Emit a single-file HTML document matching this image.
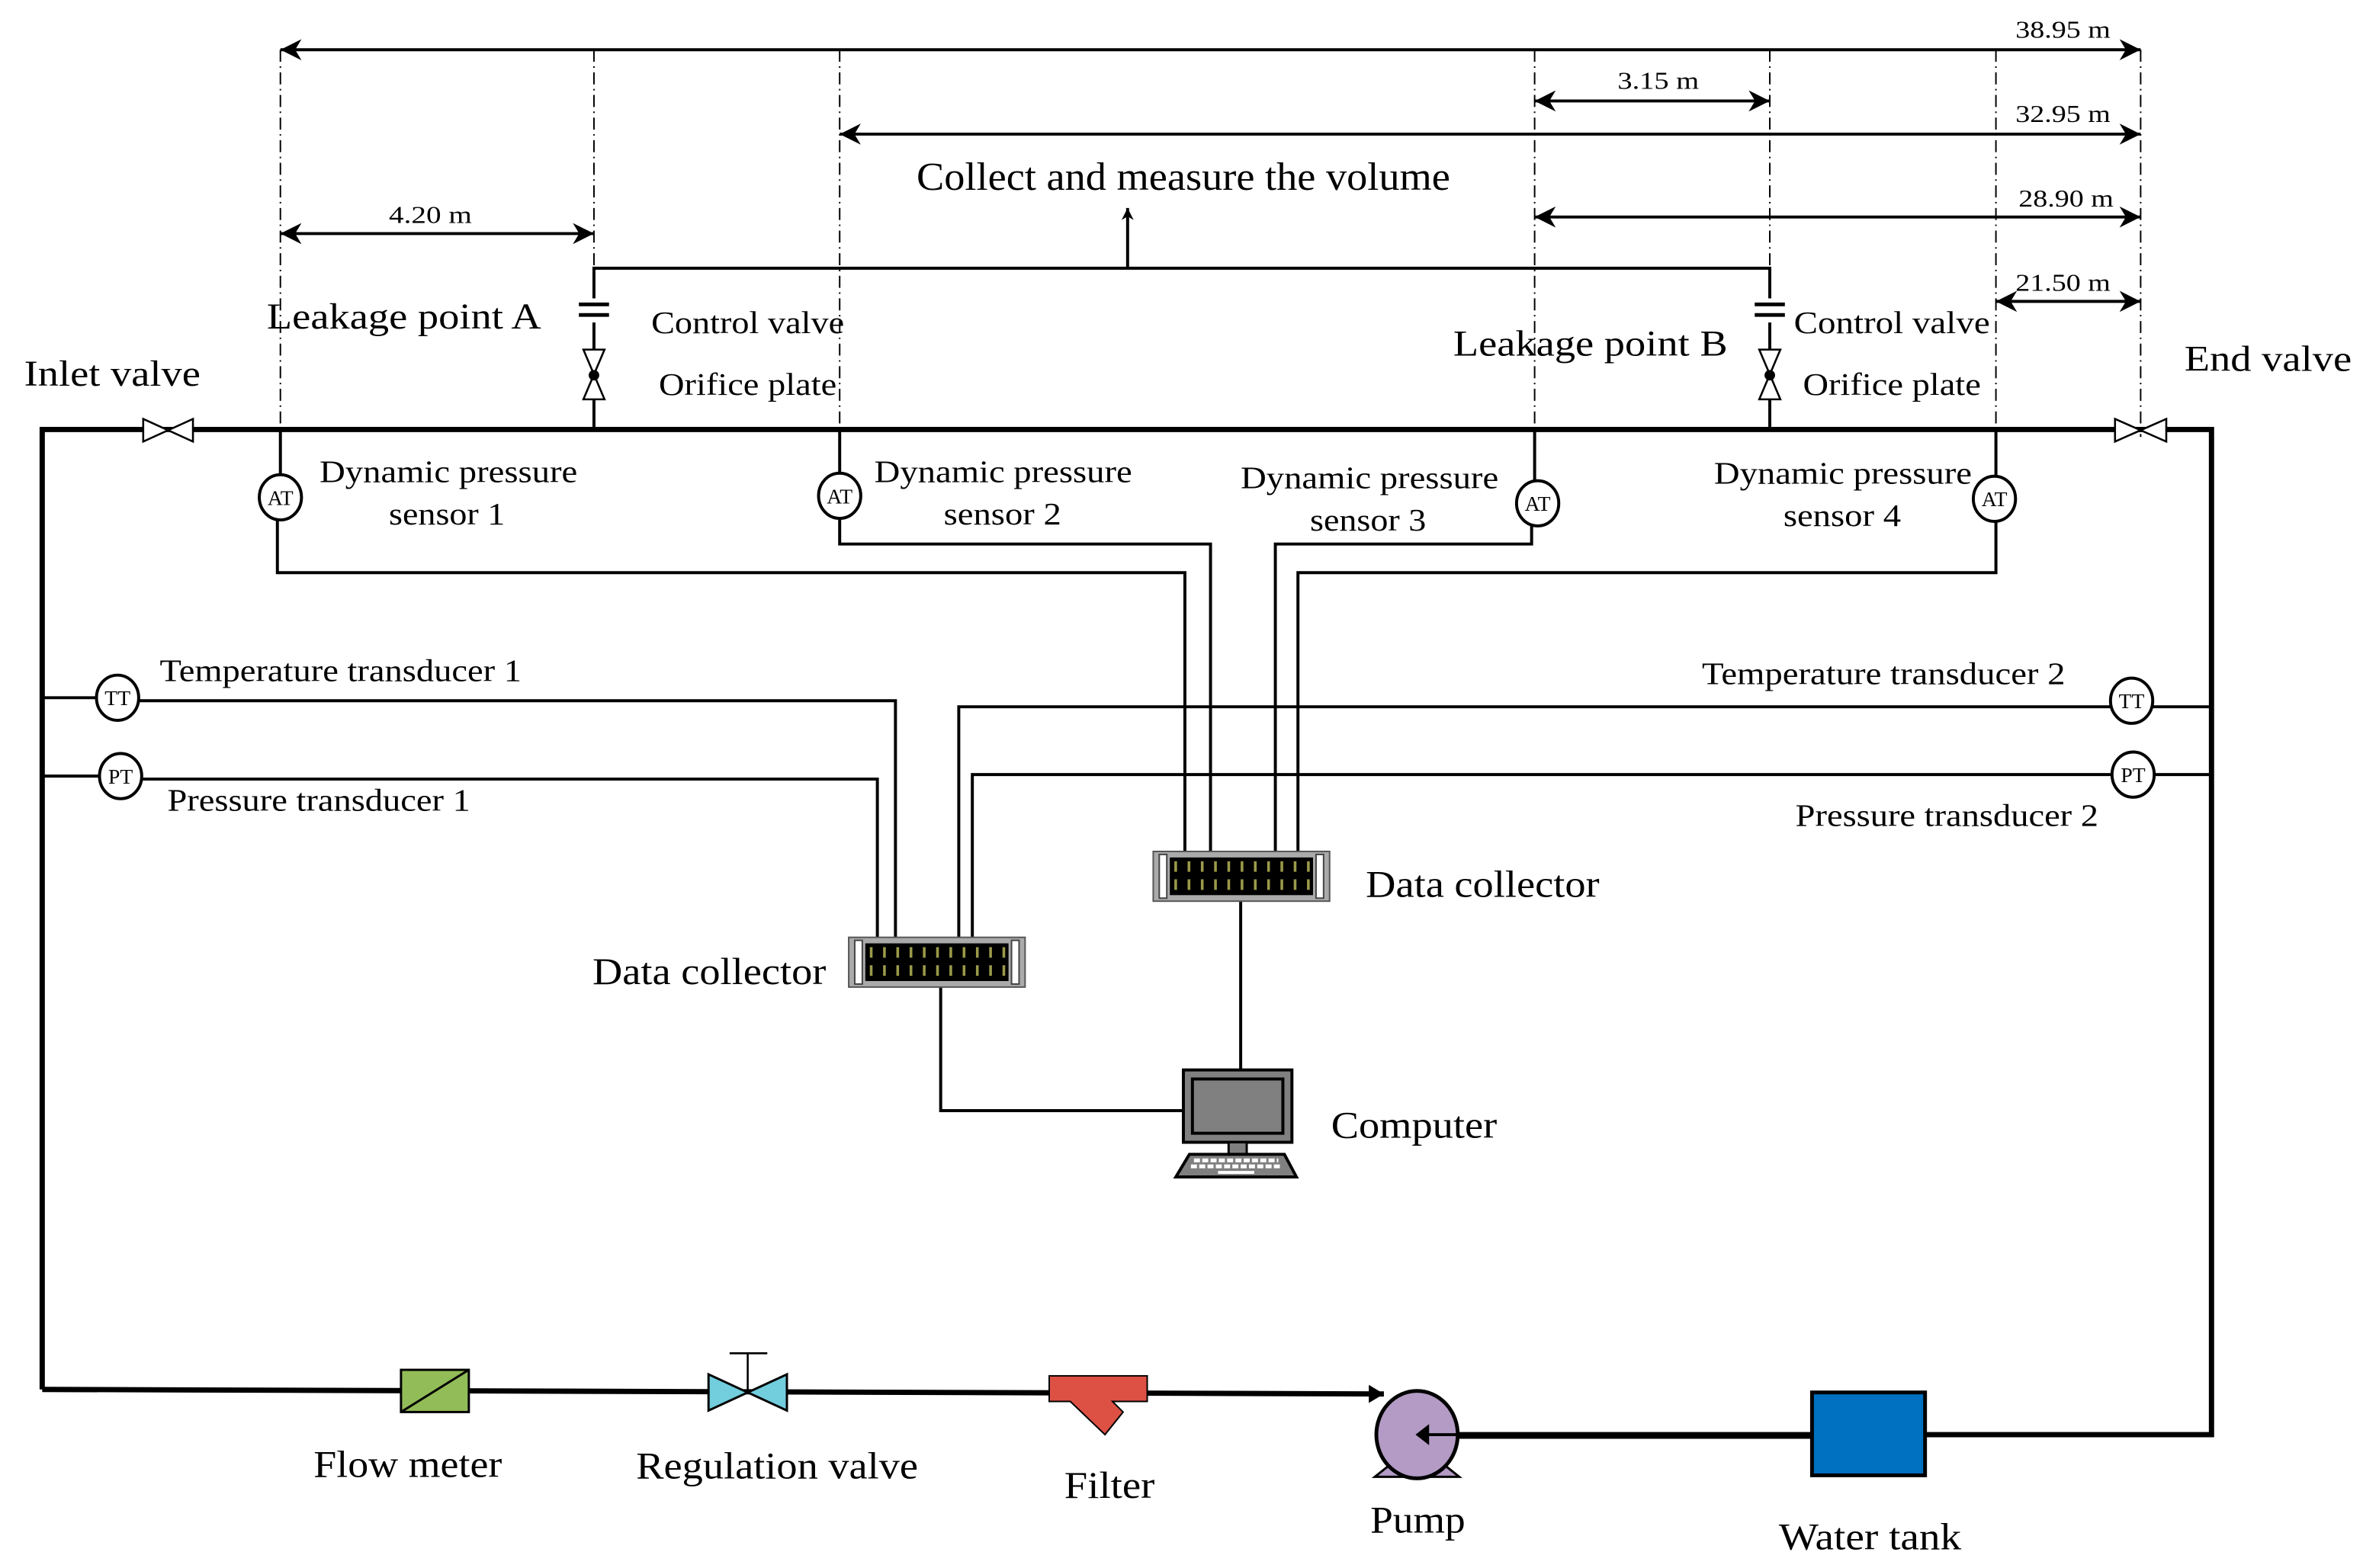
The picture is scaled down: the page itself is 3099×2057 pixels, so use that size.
<!DOCTYPE html>
<html><head><meta charset="utf-8"><style>
html,body{margin:0;padding:0;background:#fff;}
svg{display:block;}
text{font-family:"Liberation Serif",serif;fill:#000;}
</style></head><body>
<svg width="3099" height="2057" viewBox="0 0 1567.5 1040.5" preserveAspectRatio="none" xmlns="http://www.w3.org/2000/svg">
<defs>
<marker id="ah" viewBox="0 0 10 10" refX="10" refY="5" markerWidth="8" markerHeight="8" orient="auto-start-reverse" markerUnits="userSpaceOnUse"><path d="M0,0 L10,5 L0,10 L3,5 Z" fill="#000"/></marker>
<marker id="ah2" viewBox="0 0 10 10" refX="10" refY="5" markerWidth="14" markerHeight="14" orient="auto-start-reverse" markerUnits="userSpaceOnUse"><path d="M0,0 L10,5 L0,10 L3,5 Z" fill="#000"/></marker>
<g id="dc">
<rect x="0" y="0" width="117" height="33" fill="#aaa" stroke="#555" stroke-width="1"/>
<rect x="4" y="2" width="5" height="29" fill="#fff" stroke="#444" stroke-width="1"/>
<rect x="108" y="2" width="5" height="29" fill="#fff" stroke="#444" stroke-width="1"/>
<rect x="11" y="4" width="95" height="25" fill="#000"/>
<g stroke="#9a9a4a" stroke-width="1.8" stroke-dasharray="1.8,7">
<line x1="14" y1="10" x2="106" y2="10" stroke-width="7"/>
<line x1="14" y1="22" x2="106" y2="22" stroke-width="7"/>
</g>
</g>
</defs>
<rect width="1567.5" height="1040.5" fill="#fff"/>

<g stroke="#000" stroke-width="1" stroke-dasharray="8,3,1,3" fill="none">
<line x1="186" y1="33" x2="186" y2="290"/>
<line x1="394" y1="33" x2="394" y2="178"/>
<line x1="557" y1="33" x2="557" y2="290"/>
<line x1="1018" y1="33" x2="1018" y2="290"/>
<line x1="1174" y1="33" x2="1174" y2="178"/>
<line x1="1324" y1="33" x2="1324" y2="290"/>
<line x1="1420" y1="33" x2="1420" y2="290"/>
</g>

<g stroke="#000" stroke-width="2" fill="none">
<line x1="186" y1="33" x2="1420" y2="33" marker-start="url(#ah2)" marker-end="url(#ah2)"/>
<line x1="1018" y1="67" x2="1174" y2="67" marker-start="url(#ah2)" marker-end="url(#ah2)"/>
<line x1="557" y1="89" x2="1420" y2="89" marker-start="url(#ah2)" marker-end="url(#ah2)"/>
<line x1="1018" y1="144" x2="1420" y2="144" marker-start="url(#ah2)" marker-end="url(#ah2)"/>
<line x1="1324" y1="200" x2="1420" y2="200" marker-start="url(#ah2)" marker-end="url(#ah2)"/>
<line x1="186" y1="155" x2="394" y2="155" marker-start="url(#ah2)" marker-end="url(#ah2)"/>
</g>
<g font-size="16">
<text x="1337" y="25" textLength="63" lengthAdjust="spacingAndGlyphs">38.95 m</text>
<text x="1073" y="59" textLength="54" lengthAdjust="spacingAndGlyphs">3.15 m</text>
<text x="1337" y="81" textLength="63" lengthAdjust="spacingAndGlyphs">32.95 m</text>
<text x="1339" y="137" textLength="63" lengthAdjust="spacingAndGlyphs">28.90 m</text>
<text x="1337" y="193" textLength="63" lengthAdjust="spacingAndGlyphs">21.50 m</text>
<text x="258" y="148" textLength="55" lengthAdjust="spacingAndGlyphs">4.20 m</text>
</g>

<g stroke="#000" stroke-width="2" fill="none">
<polyline points="394,285 394,178 1174,178 1174,285"/>
<line x1="748" y1="178" x2="748" y2="138" marker-end="url(#ah)"/>
</g>
<text x="608" y="126" font-size="26" textLength="354" lengthAdjust="spacingAndGlyphs">Collect and measure the volume</text>

<g id="lv">
<rect x="383" y="198" width="22" height="16" fill="#fff"/>
<line x1="384" y1="202" x2="404" y2="202" stroke="#000" stroke-width="2.5"/>
<line x1="384" y1="209" x2="404" y2="209" stroke="#000" stroke-width="2.5"/>
<path d="M387,232 L401,232 L387,265 L401,265 Z" fill="#fff" stroke="#000" stroke-width="1.3"/>
<circle cx="394" cy="249" r="3.5" fill="#000"/>
</g>
<use href="#lv" x="780"/>

<g stroke="#000" stroke-width="3.5" fill="none">
<polyline points="28,922 28,285 1467,285 1467,952 968,952"/>
<line x1="28" y1="922" x2="918" y2="925"/>
</g>
<g fill="#fff" stroke="#000" stroke-width="1.3">
<path d="M95,278 L128,293 L128,278 L95,293 Z"/>
<path d="M1403,278 L1437,293 L1437,278 L1403,293 Z"/>
</g>
<text x="16" y="256" font-size="24" textLength="117" lengthAdjust="spacingAndGlyphs">Inlet valve</text>
<text x="1449" y="246" font-size="24" textLength="111" lengthAdjust="spacingAndGlyphs">End valve</text>
<text x="177" y="218" font-size="24" textLength="182" lengthAdjust="spacingAndGlyphs">Leakage point A</text>
<text x="964" y="236" font-size="24" textLength="182" lengthAdjust="spacingAndGlyphs">Leakage point B</text>
<g font-size="21">
<text x="432" y="221" textLength="128" lengthAdjust="spacingAndGlyphs">Control valve</text>
<text x="437" y="262" textLength="118" lengthAdjust="spacingAndGlyphs">Orifice plate</text>
<text x="1190" y="221" textLength="130" lengthAdjust="spacingAndGlyphs">Control valve</text>
<text x="1196" y="262" textLength="118" lengthAdjust="spacingAndGlyphs">Orifice plate</text>
</g>

<g stroke="#000" stroke-width="2" fill="none">
<polyline points="186,285 186,316"/>
<polyline points="184,344 184,380 786,380 786,565"/>
<polyline points="557,285 557,315"/>
<polyline points="557,343 557,361 803,361 803,565"/>
<polyline points="1018,285 1018,320"/>
<polyline points="1016,348 1016,361 846,361 846,565"/>
<polyline points="1324,285 1324,317"/>
<polyline points="1324,345 1324,380 861,380 861,565"/>
<line x1="28" y1="463" x2="64" y2="463"/>
<polyline points="92,465 594,465 594,622"/>
<line x1="28" y1="515" x2="66" y2="515"/>
<polyline points="94,517 582,517 582,622"/>
<line x1="1428" y1="469" x2="1467" y2="469"/>
<polyline points="1400,469 636,469 636,622"/>
<line x1="1429" y1="514" x2="1467" y2="514"/>
<polyline points="1401,514 645,514 645,622"/>
<polyline points="624,655 624,737 785,737"/>
<line x1="823" y1="598" x2="823" y2="710"/>
</g>
<g fill="#fff" stroke="#000" stroke-width="2">
<ellipse cx="186" cy="330" rx="14" ry="15"/>
<ellipse cx="557" cy="329" rx="14" ry="15"/>
<ellipse cx="1020" cy="334" rx="14" ry="15"/>
<ellipse cx="1323" cy="331" rx="14" ry="15"/>
<ellipse cx="78" cy="463" rx="14" ry="15"/>
<ellipse cx="80" cy="515" rx="14" ry="15"/>
<ellipse cx="1414" cy="465" rx="14" ry="15"/>
<ellipse cx="1415" cy="514" rx="14" ry="15"/>
</g>
<g font-size="14" text-anchor="middle">
<text x="186" y="335">AT</text><text x="557" y="334">AT</text><text x="1020" y="339">AT</text><text x="1323" y="336">AT</text>
<text x="78" y="468">TT</text><text x="80" y="520">PT</text><text x="1414" y="470">TT</text><text x="1415" y="519">PT</text>
</g>
<g font-size="21">
<text x="212" y="320" textLength="171" lengthAdjust="spacingAndGlyphs">Dynamic pressure</text>
<text x="258" y="348" textLength="77" lengthAdjust="spacingAndGlyphs">sensor 1</text>
<text x="580" y="320" textLength="171" lengthAdjust="spacingAndGlyphs">Dynamic pressure</text>
<text x="626" y="348" textLength="78" lengthAdjust="spacingAndGlyphs">sensor 2</text>
<text x="823" y="324" textLength="171" lengthAdjust="spacingAndGlyphs">Dynamic pressure</text>
<text x="869" y="352" textLength="77" lengthAdjust="spacingAndGlyphs">sensor 3</text>
<text x="1137" y="321" textLength="171" lengthAdjust="spacingAndGlyphs">Dynamic pressure</text>
<text x="1183" y="349" textLength="78" lengthAdjust="spacingAndGlyphs">sensor 4</text>
<text x="106" y="452" textLength="240" lengthAdjust="spacingAndGlyphs">Temperature transducer 1</text>
<text x="111" y="538" textLength="201" lengthAdjust="spacingAndGlyphs">Pressure transducer 1</text>
<text x="1129" y="454" textLength="241" lengthAdjust="spacingAndGlyphs">Temperature transducer 2</text>
<text x="1191" y="548" textLength="201" lengthAdjust="spacingAndGlyphs">Pressure transducer 2</text>
</g>

<use href="#dc" x="563" y="622"/>
<use href="#dc" x="765" y="565"/>
<text x="393" y="653" font-size="25" textLength="155" lengthAdjust="spacingAndGlyphs">Data collector</text>
<text x="906" y="595" font-size="25" textLength="155" lengthAdjust="spacingAndGlyphs">Data collector</text>

<rect x="785" y="710" width="72" height="48" fill="#808080" stroke="#000" stroke-width="2"/>
<rect x="791" y="716" width="60" height="36" fill="#808080" stroke="#000" stroke-width="2"/>
<rect x="815" y="758" width="12" height="9" fill="#808080" stroke="#000" stroke-width="1.5"/>
<path d="M789,766 L852,766 L860,781 L780,781 Z" fill="#808080" stroke="#000" stroke-width="2"/>
<g stroke="#fff" stroke-width="2.5" stroke-dasharray="4,1.5">
<line x1="792" y1="770" x2="848" y2="770"/><line x1="790" y1="774" x2="850" y2="774"/>
</g>
<line x1="808" y1="778" x2="832" y2="778" stroke="#fff" stroke-width="2"/>
<text x="883" y="755" font-size="25" textLength="110" lengthAdjust="spacingAndGlyphs">Computer</text>

<rect x="266" y="909" width="45" height="28" fill="#92bc58" stroke="#000" stroke-width="1.5"/>
<line x1="266" y1="937" x2="311" y2="909" stroke="#000" stroke-width="1.5"/>
<path d="M470,912 L522,936 L522,912 L470,936 Z" fill="#72cddd" stroke="#000" stroke-width="1.5"/>
<line x1="496" y1="924" x2="496" y2="898" stroke="#000" stroke-width="1.3"/>
<line x1="484" y1="898" x2="509" y2="898" stroke="#000" stroke-width="1.3"/>
<path d="M696,913 L761,913 L761,930 L738,930 L745,937 L733,952 L710,930 L696,930 Z" fill="#dd5145" stroke="#000" stroke-width="1"/>
<polygon points="918,925 908,919 908,931" fill="#000"/>
<path d="M922,972 L958,972 L968,980 L912,980 Z" fill="#b39bc5" stroke="#000" stroke-width="1.5"/>
<ellipse cx="940" cy="952" rx="27" ry="29" fill="#b39bc5" stroke="#000" stroke-width="2.5"/>
<line x1="968" y1="952" x2="944" y2="952" stroke="#000" stroke-width="2"/>
<polygon points="939,952 948,945 948,959" fill="#000"/>
<rect x="1202" y="924" width="75" height="55" fill="#0070c0" stroke="#000" stroke-width="2.5"/>
<line x1="968" y1="953" x2="1202" y2="953" stroke="#000" stroke-width="3.5"/>

<g font-size="25">
<text x="208" y="980" textLength="125" lengthAdjust="spacingAndGlyphs">Flow meter</text>
<text x="422" y="981" textLength="187" lengthAdjust="spacingAndGlyphs">Regulation valve</text>
<text x="706" y="994" textLength="60" lengthAdjust="spacingAndGlyphs">Filter</text>
<text x="909" y="1017" textLength="63" lengthAdjust="spacingAndGlyphs">Pump</text>
<text x="1180" y="1028" textLength="121" lengthAdjust="spacingAndGlyphs">Water tank</text>
</g>
</svg>
</body></html>
